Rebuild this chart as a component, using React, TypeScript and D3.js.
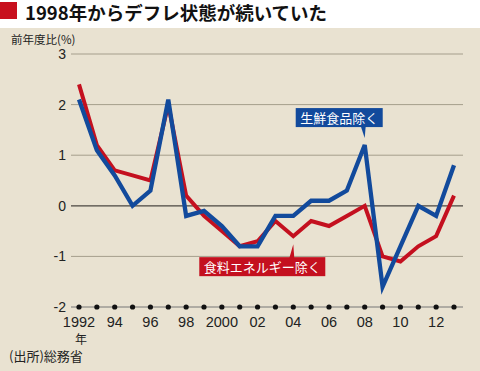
import React from 'react';
import * as d3 from 'd3';

// fiscal years 1992..2013
const years = d3.range(1992, 2014);
// 生鮮食品除く (core CPI)
const coreValues = [2.1, 1.1, 0.6, 0.0, 0.3, 2.1, -0.2, -0.1, -0.4, -0.8, -0.8, -0.2, -0.2, 0.1, 0.1, 0.3, 1.2, -1.6, -0.8, 0.0, -0.2, 0.8];
// 食料エネルギー除く (core-core CPI)
const coreCoreValues = [2.4, 1.2, 0.7, 0.6, 0.5, 2.0, 0.2, -0.2, -0.5, -0.8, -0.7, -0.3, -0.6, -0.3, -0.4, -0.2, 0.0, -1.0, -1.1, -0.8, -0.6, 0.2];
const yTicks = [3, 2, 1, 0, -1, -2];
const xTickYears = [1992, 1994, 1996, 1998, 2000, 2002, 2004, 2006, 2008, 2010, 2012];
const xTickLabels = ['1992', '94', '96', '98', '2000', '02', '04', '06', '08', '10', '12'];

const W = 480;
const H = 371;
const BLUE = '#124a9c';
const RED = '#c4101f';
const BG = '#e9e2d1';
const FONT = 'Liberation Sans, Arial, sans-serif';
const JP = '"Noto Sans CJK JP", sans-serif';

export default function App() {
  const x = d3.scaleLinear().domain([1992, 2013]).range([79, 454]);
  const y = d3.scaleLinear().domain([-2, 3]).range([307, 54]);

  const line = d3
    .line<number>()
    .x((_, i) => x(years[i]))
    .y((d) => y(d));

  // callout anchors
  const bx = x(2008);
  const by = y(1.2);
  const rx = x(2004);
  const ry = y(-0.6);

  return (
    <svg width={W} height={H} style={{ position: 'fixed', left: 0, top: 0 }}>
      <rect x={0} y={0} width={W} height={H} fill="#fff" />
      <rect x={0} y={28} width={W} height={H - 28} fill={BG} />
      <rect x={0} y={2} width={17} height={17} fill="#c8101e" />
      <text x={25} y={20} fontFamily={JP} fontWeight={700} fontSize={18.5} fill="#111">
        1998年からデフレ状態が続いていた
      </text>
      <text x={11} y={44} fontFamily={JP} fontSize={11.5} fill="#222">
        前年度比(%)
      </text>

      {yTicks.map((t) => (
        <g key={t}>
          {t !== -2 && (
            <line
              x1={71}
              x2={463}
              y1={y(t)}
              y2={y(t)}
              stroke={t === 0 ? '#4a4640' : '#a59e8c'}
              strokeWidth={t === 0 ? 1.3 : 1}
            />
          )}
          <text x={66} y={y(t) + 5} textAnchor="end" fontFamily={FONT} fontSize={14} fill="#222">
            {t}
          </text>
        </g>
      ))}

      <line x1={71} x2={463} y1={y(-2)} y2={y(-2)} stroke="#777" strokeWidth={1} />
      {years.map((yr) => (
        <circle key={yr} cx={x(yr)} cy={y(-2)} r={2.6} fill="#111" />
      ))}
      {xTickYears.map((yr, i) => (
        <text key={yr} x={x(yr)} y={327} textAnchor="middle" fontFamily={FONT} fontSize={14.5} fill="#222">
          {xTickLabels[i]}
        </text>
      ))}
      <text x={x(1992) + 2} y={344} textAnchor="middle" fontFamily={JP} fontSize={12} fill="#222">
        年
      </text>
      <text x={9} y={361} fontFamily={JP} fontSize={13} fill="#222">
        (出所)総務省
      </text>

      <path d={line(coreCoreValues) ?? ''} fill="none" stroke={RED} strokeWidth={4} strokeLinejoin="miter" />
      <path d={line(coreValues) ?? ''} fill="none" stroke={BLUE} strokeWidth={4.3} strokeLinejoin="miter" />

      {/* blue callout */}
      <g>
        <rect x={bx - 69} y={by - 37} width={87} height={19} fill={BLUE} />
        <path d={`M${bx - 4},${by - 19} L${bx + 1},${by - 19} L${bx},${by - 7} Z`} fill={BLUE} />
        <text x={bx - 25.5} y={by - 22.5} textAnchor="middle" fontFamily={JP} fontSize={13} fill="#fff">
          生鮮食品除く
        </text>
      </g>
      {/* red callout */}
      <g>
        <rect x={rx - 94} y={ry + 21} width={126} height={19} fill={RED} />
        <path d={`M${rx - 4},${ry + 22} L${rx + 1},${ry + 22} L${rx},${ry + 8} Z`} fill={RED} />
        <text x={rx - 31} y={ry + 35.5} textAnchor="middle" fontFamily={JP} fontSize={13} fill="#fff">
          食料エネルギー除く
        </text>
      </g>
    </svg>
  );
}
